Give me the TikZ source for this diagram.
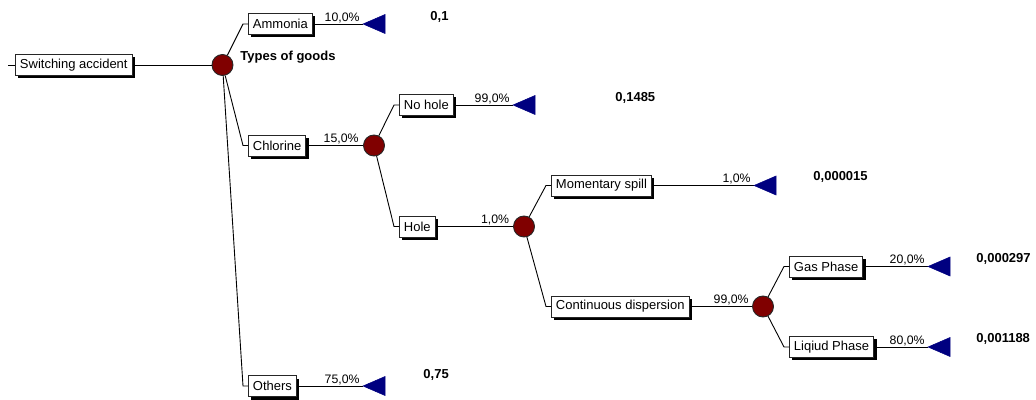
\documentclass[tikz,border=0pt]{standalone}
\usepackage{fontspec}
\setmainfont{Liberation Sans}
\usetikzlibrary{shadows}

\begin{document}
\begin{tikzpicture}[x=1pt,y=1pt,line width=0.9pt,
  evbox/.style={draw=black!85,fill=white,line width=0.9pt,font=\fmain,inner xsep=4.5pt,inner ysep=0pt,minimum height=21pt,anchor=west,
    drop shadow={shadow xshift=3pt,shadow yshift=-3pt,fill=black,opacity=1}},
  chance/.style={circle,draw=black!85,fill=treered,minimum size=21pt,inner sep=0pt,line width=0.9pt},
  term/.style={fill=treeblue,draw=treeblue,line width=0.5pt},
  pct/.style={anchor=base east,inner sep=0pt,font=\fpct},
  val/.style={anchor=west,inner sep=0pt,font=\fmain\bfseries}]
\definecolor{treered}{RGB}{128,0,0}
\definecolor{treeblue}{RGB}{0,0,128}
\providecommand{\fmain}{\fontsize{13}{15}\selectfont}
\providecommand{\fpct}{\fontsize{12.3}{14}\selectfont}
\useasboundingbox (0,0) rectangle (1036,399);
\coordinate (rootin) at (8,334);
\node[evbox] (root) at (15,334) {Switching accident};
\draw (rootin) -- (root);
\node[chance] (goods) at (222.5,334) {};
\draw (root) -- (goods);
\node[anchor=west,inner sep=0pt,font=\fmain\bfseries] (goodslbl) at (240,342) {Types of goods};
\node[evbox] (ammonia) at (248,375) {Ammonia};
\node[evbox] (chlorine) at (248,253.5) {Chlorine};
\node[evbox] (others) at (248,13) {Others};
\draw (goods) -- ([xshift=-5pt]ammonia.west) -- (ammonia.west);
\draw (goods) -- ([xshift=-5pt]chlorine.west) -- (chlorine.west);
\draw (goods) -- ([xshift=-5pt]others.west) -- (others.west);
\coordinate (ammoniaend) at (363,375);
\draw (ammonia) -- (ammoniaend);
\filldraw[term] (ammoniaend) -- ++(22,9.5) -- ++(0,-19) -- cycle;
\node[pct] (ammoniap) at ([shift={(-3pt,2.5pt)}]ammoniaend) {10,0\%};
\node[val] (ammoniav) at (430,382) {0,1};
\coordinate (othersend) at (363,13);
\draw (others) -- (othersend);
\filldraw[term] (othersend) -- ++(22,9.5) -- ++(0,-19) -- cycle;
\node[pct] (othersp) at ([shift={(-3pt,2.5pt)}]othersend) {75,0\%};
\node[val] (othersv) at (423,24.5) {0,75};
\node[chance] (leak) at (374,253.5) {};
\draw (chlorine) -- (leak);
\node[pct] (chlorinep) at ([shift={(-4pt,3pt)}]leak.west) {15,0\%};
\node[evbox] (nohole) at (399,294) {No hole};
\node[evbox] (hole) at (399,172.5) {Hole};
\draw (leak) -- ([xshift=-5pt]nohole.west) -- (nohole.west);
\draw (leak) -- ([xshift=-5pt]hole.west) -- (hole.west);
\coordinate (noholeend) at (513,294);
\draw (nohole) -- (noholeend);
\filldraw[term] (noholeend) -- ++(22,9.5) -- ++(0,-19) -- cycle;
\node[pct] (noholep) at ([shift={(-3pt,2.5pt)}]noholeend) {99,0\%};
\node[val] (noholev) at (615,301.5) {0,1485};
\node[chance] (release) at (524,172.5) {};
\draw (hole) -- (release);
\node[pct] (holep) at ([shift={(-3.5pt,3pt)}]release.west) {1,0\%};
\node[evbox] (spill) at (551,213.5) {Momentary spill};
\node[evbox] (disp) at (551,92.5) {Continuous dispersion};
\draw (release) -- ([xshift=-5pt]spill.west) -- (spill.west);
\draw (release) -- ([xshift=-5pt]disp.west) -- (disp.west);
\coordinate (spillend) at (754,213.5);
\draw (spill) -- (spillend);
\filldraw[term] (spillend) -- ++(22,9.5) -- ++(0,-19) -- cycle;
\node[pct] (spillp) at ([shift={(-3pt,2.5pt)}]spillend) {1,0\%};
\node[val] (spillv) at (813,222) {0,000015};
\node[chance] (phase) at (763,92.5) {};
\draw (disp) -- (phase);
\node[pct] (dispp) at ([shift={(-3pt,3pt)}]phase.west) {99,0\%};
\node[evbox] (gas) at (789,132.5) {Gas Phase};
\node[evbox] (liquid) at (789,52) {Liqiud Phase};
\draw (phase) -- ([xshift=-5pt]gas.west) -- (gas.west);
\draw (phase) -- ([xshift=-5pt]liquid.west) -- (liquid.west);
\coordinate (gasend) at (928,132.5);
\draw (gas) -- (gasend);
\filldraw[term] (gasend) -- ++(22,9.5) -- ++(0,-19) -- cycle;
\node[pct] (gasp) at ([shift={(-3pt,2.5pt)}]gasend) {20,0\%};
\node[val] (gasv) at (976,140) {0,000297};
\coordinate (liquidend) at (928,52);
\draw (liquid) -- (liquidend);
\filldraw[term] (liquidend) -- ++(22,9.5) -- ++(0,-19) -- cycle;
\node[pct] (liquidp) at ([shift={(-3pt,2.5pt)}]liquidend) {80,0\%};
\node[val] (liquidv) at (976,60) {0,001188};
\end{tikzpicture}
\end{document}
